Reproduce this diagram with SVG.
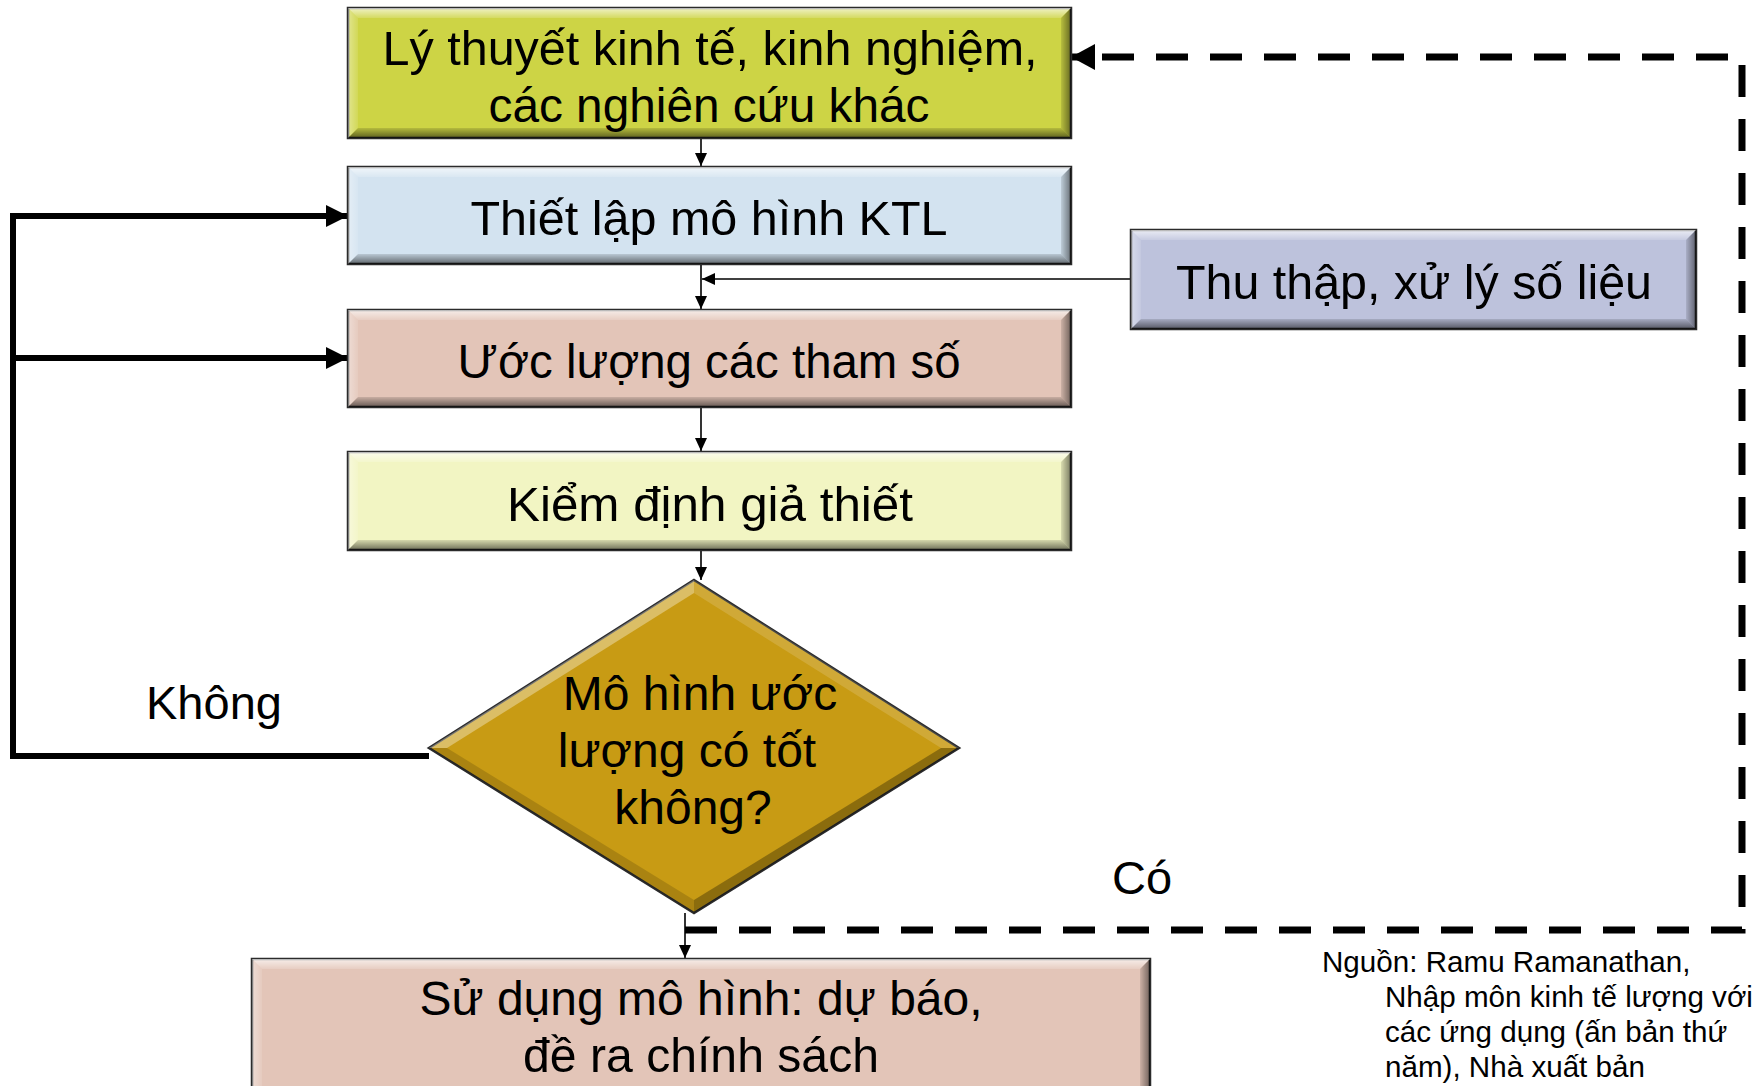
<svg xmlns="http://www.w3.org/2000/svg" width="1756" height="1086" viewBox="0 0 1756 1086">
<style>
.frame{stroke:#2b2b2b;stroke-width:2.5}
.tp{fill:url(#gTop)}.bt{fill:url(#gBot)}.lf{fill:url(#gLeft)}.rt{fill:url(#gRight)}
.lbl{font-family:"Liberation Sans",Arial,sans-serif;font-size:48px;fill:#000;text-anchor:middle}
.free{font-family:"Liberation Sans",Arial,sans-serif;fill:#000}
.thin{fill:none;stroke:#000;stroke-width:1.6}
.thick{fill:none;stroke:#000;stroke-width:6}
.dash{fill:none;stroke:#000;stroke-width:7;stroke-dasharray:32 22}
</style>
<defs>
<linearGradient id="gTop" x1="0" y1="0" x2="0" y2="1"><stop offset="0" stop-color="#fff" stop-opacity="0.7"/><stop offset="1" stop-color="#fff" stop-opacity="0.15"/></linearGradient>
<linearGradient id="gBot" x1="0" y1="0" x2="0" y2="1"><stop offset="0" stop-color="#000" stop-opacity="0.12"/><stop offset="1" stop-color="#000" stop-opacity="0.55"/></linearGradient>
<linearGradient id="gLeft" x1="0" y1="0" x2="1" y2="0"><stop offset="0" stop-color="#fff" stop-opacity="0.4"/><stop offset="1" stop-color="#fff" stop-opacity="0.1"/></linearGradient>
<linearGradient id="gRight" x1="0" y1="0" x2="1" y2="0"><stop offset="0" stop-color="#000" stop-opacity="0.1"/><stop offset="1" stop-color="#000" stop-opacity="0.5"/></linearGradient>
<marker id="aThin" markerUnits="userSpaceOnUse" markerWidth="14" markerHeight="12" refX="13" refY="6" orient="auto"><path d="M0,0 L13,6 L0,12 z" fill="#000"/></marker>
<marker id="aThick" markerUnits="userSpaceOnUse" markerWidth="22" markerHeight="22" refX="21" refY="11" orient="auto"><path d="M0,0 L22,11 L0,22 z" fill="#000"/></marker>
<marker id="aDash" markerUnits="userSpaceOnUse" markerWidth="24" markerHeight="26" refX="23" refY="13" orient="auto"><path d="M0,0 L24,13 L0,26 z" fill="#000"/></marker>
</defs>
<rect width="1756" height="1086" fill="#fff"/>

<g id="connectors">
<path class="thin" d="M701,138 V166" marker-end="url(#aThin)"/>
<path class="thin" d="M701,264 V309" marker-end="url(#aThin)"/>
<path class="thin" d="M1131,279 H702" marker-end="url(#aThin)"/>
<path class="thin" d="M701,407 V451" marker-end="url(#aThin)"/>
<path class="thin" d="M701,550 V580" marker-end="url(#aThin)"/>
<path class="thin" d="M685,913 V958" marker-end="url(#aThin)"/>
<path class="thick" d="M429,756 H13 V216 H347" marker-end="url(#aThick)"/>
<path class="thick" d="M13,358 H347" marker-end="url(#aThick)"/>
<path class="dash" d="M685,930 H1742 V57 H1072" marker-end="url(#aDash)"/>
</g>

<g id="n1">
<rect x="348" y="8" width="723" height="130" fill="#CDD445" class="frame"/>
<polygon class="tp" points="348,8 1071,8 1061,18 358,18"/>
<polygon class="lf" points="348,8 358,18 358,128 348,138"/>
<polygon class="rt" points="1061,18 1071,8 1071,138 1061,128"/>
<polygon class="bt" points="358,128 1061,128 1071,138 348,138"/>
<text class="lbl" x="710" y="65" textLength="655" lengthAdjust="spacingAndGlyphs">Lý thuyết kinh tế, kinh nghiệm,</text>
<text class="lbl" x="709" y="122" textLength="441" lengthAdjust="spacingAndGlyphs">các nghiên cứu khác</text>
</g>

<g id="n2">
<rect x="348" y="167" width="723" height="97" fill="#D3E3F0" class="frame"/>
<polygon class="tp" points="348,167 1071,167 1061,177 358,177"/>
<polygon class="lf" points="348,167 358,177 358,254 348,264"/>
<polygon class="rt" points="1061,177 1071,167 1071,264 1061,254"/>
<polygon class="bt" points="358,254 1061,254 1071,264 348,264"/>
<text class="lbl" x="709" y="235" textLength="477" lengthAdjust="spacingAndGlyphs">Thiết lập mô hình KTL</text>
</g>

<g id="n3">
<rect x="348" y="310" width="723" height="97" fill="#E3C5B8" class="frame"/>
<polygon class="tp" points="348,310 1071,310 1061,320 358,320"/>
<polygon class="lf" points="348,310 358,320 358,397 348,407"/>
<polygon class="rt" points="1061,320 1071,310 1071,407 1061,397"/>
<polygon class="bt" points="358,397 1061,397 1071,407 348,407"/>
<text class="lbl" x="709" y="378" textLength="503" lengthAdjust="spacingAndGlyphs">Ước lượng các tham số</text>
</g>

<g id="n4">
<rect x="348" y="452" width="723" height="98" fill="#F2F5C3" class="frame"/>
<polygon class="tp" points="348,452 1071,452 1061,462 358,462"/>
<polygon class="lf" points="348,452 358,462 358,540 348,550"/>
<polygon class="rt" points="1061,462 1071,452 1071,550 1061,540"/>
<polygon class="bt" points="358,540 1061,540 1071,550 348,550"/>
<text class="lbl" x="710" y="521" textLength="406" lengthAdjust="spacingAndGlyphs">Kiểm định giả thiết</text>
</g>

<g id="n5">
<rect x="1131" y="230" width="565" height="99" fill="#BDC2DC" class="frame"/>
<polygon class="tp" points="1131,230 1696,230 1686,240 1141,240"/>
<polygon class="lf" points="1131,230 1141,240 1141,319 1131,329"/>
<polygon class="rt" points="1686,240 1696,230 1696,329 1686,319"/>
<polygon class="bt" points="1141,319 1686,319 1696,329 1131,329"/>
<text class="lbl" x="1414" y="299" textLength="476" lengthAdjust="spacingAndGlyphs">Thu thập, xử lý số liệu</text>
</g>

<g id="n6">
<polygon points="694,580 959,748 694,913 429,748" fill="#C89B14" class="frame"/>
<polygon points="694,580 694,593 447,748 429,748" fill="#fff" fill-opacity="0.35"/>
<polygon points="694,580 959,748 941,748 694,593" fill="#fff" fill-opacity="0.15"/>
<polygon points="429,748 447,748 694,900 694,913" fill="#000" fill-opacity="0.15"/>
<polygon points="959,748 694,913 694,900 941,748" fill="#000" fill-opacity="0.3"/>
<text class="lbl" x="700" y="710">Mô hình ước</text>
<text class="lbl" x="687" y="767">lượng có tốt </text>
<text class="lbl" x="693" y="824">không?</text>
</g>

<g id="n7">
<rect x="252" y="959" width="898" height="140" fill="#E3C5B8" class="frame"/>
<polygon class="tp" points="252,959 1150,959 1140,969 262,969"/>
<polygon class="lf" points="252,959 262,969 262,1089 252,1099"/>
<polygon class="rt" points="1140,969 1150,959 1150,1099 1140,1089"/>
<text class="lbl" x="701" y="1015" textLength="563" lengthAdjust="spacingAndGlyphs">Sử dụng mô hình: dự báo,</text>
<text class="lbl" x="701" y="1072" textLength="356" lengthAdjust="spacingAndGlyphs">đề ra chính sách</text>
</g>

<g id="labels">
<text class="free" x="146" y="719" font-size="47">Không</text>
<text class="free" x="1112" y="894" font-size="47">Có</text>
<text class="free" font-size="29.6"><tspan x="1322" y="972">Nguồn: Ramu Ramanathan,</tspan><tspan x="1385" y="1007">Nhập môn kinh tế lượng với</tspan><tspan x="1385" y="1042">các ứng dụng (ấn bản thứ</tspan><tspan x="1385" y="1077">năm), Nhà xuất bản</tspan></text>
</g>
</svg>
